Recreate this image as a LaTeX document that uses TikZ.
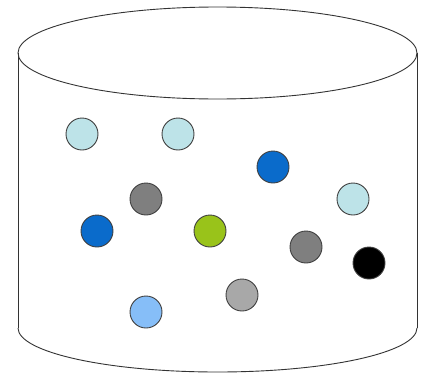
\documentclass[tikz,border=0pt]{standalone}
\definecolor{lcyan}{HTML}{BDE3E8}
\definecolor{mgray}{HTML}{7F7F7F}
\definecolor{dblue}{HTML}{0A6BCB}
\definecolor{lgreen}{HTML}{99C31A}
\definecolor{lgray}{HTML}{A8A8A8}
\definecolor{lblue}{HTML}{86BEF8}
\tikzset{ball/.style={circle,draw=black!75,line width=0.9pt,minimum size=32pt,inner sep=0pt},
 outline/.style={draw=black!80,line width=0.9pt}}
\begin{document}
\begin{tikzpicture}[x=1pt,y=-1pt]
\useasboundingbox (0,0) rectangle (423,375);
\coordinate (tl) at (18,53);
\coordinate (tr) at (417,53);
\coordinate (bl) at (18,328);
\coordinate (br) at (417,328);
\draw[outline] (217.5,53) ellipse [x radius=199.5, y radius=46];
\draw[outline] (tl) -- (bl);
\draw[outline] (tr) -- (br);
\draw[outline] (bl) arc[start angle=180, end angle=360, x radius=199.5, y radius=-44];
\node[ball,fill=lcyan] (c1) at (82,134) {};
\node[ball,fill=lcyan] (c2) at (178,134) {};
\node[ball,fill=dblue] (c3) at (273,167) {};
\node[ball,fill=mgray] (c4) at (146,199) {};
\node[ball,fill=lcyan] (c5) at (353,199) {};
\node[ball,fill=dblue] (c6) at (97,231) {};
\node[ball,fill=lgreen] (c7) at (210,231) {};
\node[ball,fill=mgray] (c8) at (306,247) {};
\node[ball,fill=black] (c9) at (369,263) {};
\node[ball,fill=lgray] (c10) at (242,295) {};
\node[ball,fill=lblue] (c11) at (146,312) {};
\end{tikzpicture}
\end{document}
